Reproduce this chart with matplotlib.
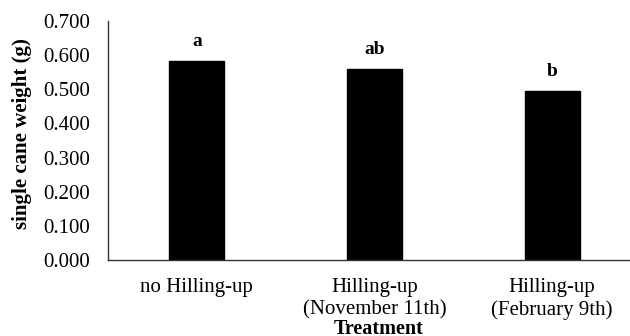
import matplotlib
matplotlib.use("Agg")
import matplotlib.pyplot as plt

# Data
treatments = ["no Hilling-up", "Hilling-up\n(November 11th)", "Hilling-up\n(February 9th)"]
cane_weight = [0.582, 0.559, 0.495]
letters = ["a", "ab", "b"]
y_ticks = [0.0, 0.1, 0.2, 0.3, 0.4, 0.5, 0.6, 0.7]

plt.rcParams["font.family"] = ["Liberation Serif", "DejaVu Serif"]
FS = 15

fig = plt.figure(figsize=(6.3, 3.36), dpi=100)
W, H = 630, 336
left, right, top, bottom = 108, 641, 21, 260
ax = fig.add_axes([left / W, 1 - bottom / H, (right - left) / W, (bottom - top) / H])

x = list(range(len(treatments)))
bars = ax.bar(x, cane_weight, width=0.31, color="black", edgecolor="black")

for xi, v, lab in zip(x, cane_weight, letters):
    ax.annotate(lab, (xi, v), xytext=(0, 8), textcoords="offset points",
                ha="center", va="bottom", fontsize=FS - 1, fontweight="bold")

ax.set_xlim(-0.5, 2.5)
ax.set_ylim(0, 0.7)
ax.set_yticks(y_ticks)
ax.set_yticklabels([f"{t:.3f}" for t in y_ticks], fontsize=FS)
ax.set_xticks(x)
ax.set_xticklabels(treatments, fontsize=FS, linespacing=1.22)
ax.tick_params(axis="both", length=0)
ax.tick_params(axis="y", pad=13)
ax.tick_params(axis="x", pad=13)

for s in ["top", "right"]:
    ax.spines[s].set_visible(False)
for s in ["left", "bottom"]:
    ax.spines[s].set_color("#333333")
    ax.spines[s].set_linewidth(1.0)

fig.text(22 / W, 1 - 134 / H, "single cane weight (g)", rotation=90,
         ha="center", va="center", fontsize=FS, fontweight="bold")
fig.text(379 / W, 1 - 334.5 / H, "Treatment", ha="center", va="baseline",
         fontsize=FS - 0.5, fontweight="bold")

fig.savefig("out.png", dpi=100, facecolor="white")
